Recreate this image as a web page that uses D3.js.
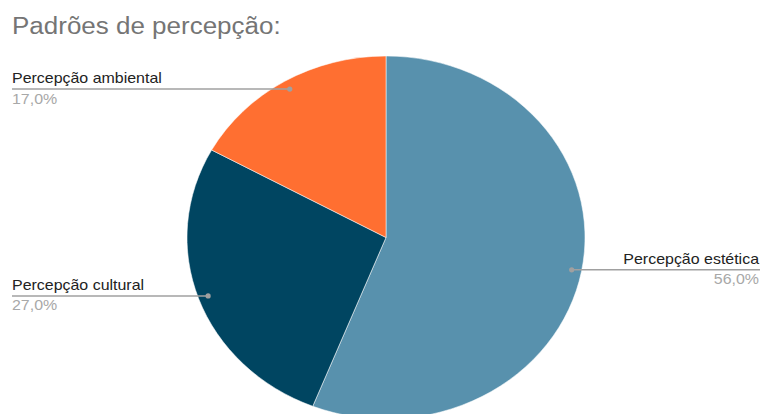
<!DOCTYPE html>
<html>
<head>
<meta charset="utf-8">
<script src="https://cdn.jsdelivr.net/npm/d3@7/dist/d3.min.js"></script>
<style>
  body { margin: 0; background: #fff; }
  svg { display: block; font-family: "Liberation Sans", Arial, sans-serif; }
</style>
</head>
<body>
<div id="chart"></div>
<script>
// dados
const categories = ['Percepção estética', 'Percepção cultural', 'Percepção ambiental'];
const values = [56.0, 27.0, 17.0];
const colors = ['#5891ad', '#004561', '#ff6f31'];

const W = 760, H = 414;
const cx = 386, cy = 237.5, ry = 181.5, rx = 199;
const sx = 1.14; // o print está esticado na horizontal

const svg = d3.select('#chart').append('svg')
    .attr('width', W).attr('height', H);

svg.append('text')
    .attr('transform', `translate(12,34) scale(${sx - 0.01},1)`)
    .attr('font-size', 23)
    .attr('fill', '#757575')
    .text('Padrões de percepção:');

const pie = d3.pie().sort(null).value(d => d.value);
const arcs = pie(categories.map((c, i) => ({ name: c, value: values[i], color: colors[i] })));
const arc = d3.arc().innerRadius(0).outerRadius(ry);

const g = svg.append('g')
    .attr('transform', `translate(${cx},${cy}) scale(${rx / ry},1)`);

g.selectAll('path').data(arcs).enter().append('path')
    .attr('d', arc)
    .attr('fill', d => d.data.color)
    .attr('stroke', '#fff')
    .attr('stroke-width', 0.5);

// rótulos
const fmt = v => d3.format('.1f')(v).replace('.', ',') + '%';
const labels = svg.append('g');
arcs.forEach(d => {
    const a = (d.startAngle + d.endAngle) / 2;
    const px = cx + Math.sin(a) * rx * 0.95;
    const py = cy - Math.cos(a) * ry * 0.95;
    const right = Math.sin(a) > 0;
    const x0 = right ? W : 12;
    const tx = right ? W - 1 : 12;
    const anchor = right ? 'end' : 'start';
    labels.append('line')
        .attr('x1', x0).attr('x2', px)
        .attr('y1', py).attr('y2', py)
        .attr('stroke', '#a0a0a0').attr('stroke-width', 1.5);
    labels.append('circle')
        .attr('cx', px).attr('cy', py).attr('r', 2.6)
        .attr('fill', '#a0a0a0');
    labels.append('text')
        .attr('transform', `translate(${tx},${py - 6}) scale(${sx},1)`)
        .attr('text-anchor', anchor)
        .attr('font-size', 14).attr('fill', '#222')
        .text(d.data.name);
    labels.append('text')
        .attr('transform', `translate(${tx},${py + 14.5}) scale(${sx},1)`)
        .attr('text-anchor', anchor)
        .attr('font-size', 14).attr('fill', '#a8a8a8')
        .text(fmt(d.data.value));
});
</script>
</body>
</html>
